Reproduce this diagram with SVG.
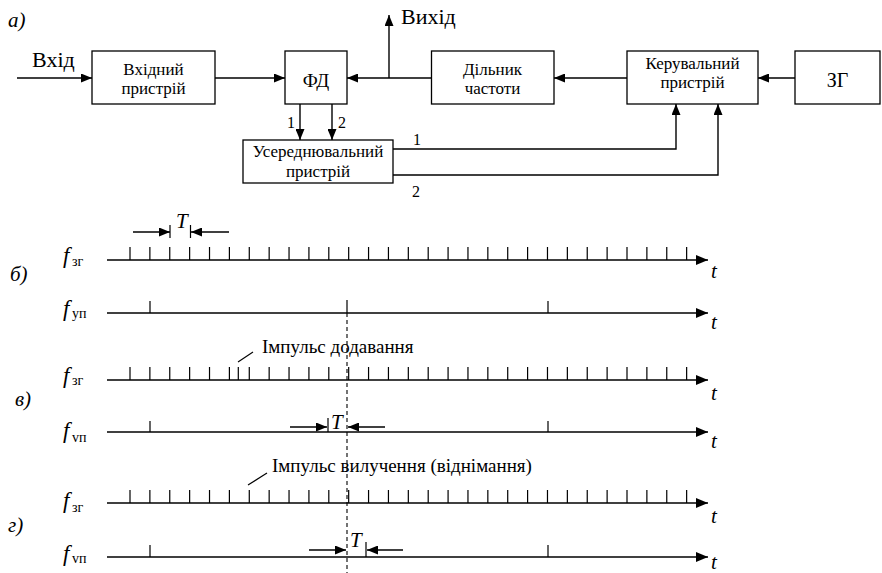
<svg xmlns="http://www.w3.org/2000/svg" width="882" height="573" viewBox="0 0 882 573">
<style>
text{font-family:"Liberation Serif","Times New Roman",serif;fill:#000}
.box{fill:#fff;stroke:#000;stroke-width:1.3}
.bt{font-size:17px;text-anchor:middle}
.big{font-size:22px}
.it{font-style:italic;font-size:21px}
.fl{font-style:italic;font-size:23px}
.num{font-size:16px}
.ln{fill:none;stroke:#000;stroke-width:1.4}
.ax{fill:none;stroke:#000;stroke-width:1.6}
.tk{fill:none;stroke:#000;stroke-width:1.2}
.sub{font-size:14px;font-style:normal}
.lbl{font-size:19px}
</style>
<defs>
<marker id="ah" markerUnits="userSpaceOnUse" markerWidth="11" markerHeight="9" refX="11" refY="4.5" orient="auto"><path d="M0,0 L11,4.5 L0,9 z" fill="#000"/></marker>
<marker id="aa" markerUnits="userSpaceOnUse" markerWidth="12" markerHeight="10" refX="12" refY="5" orient="auto"><path d="M0,0 L12,5 L0,10 z" fill="#000"/></marker>
</defs>

<text x="8" y="27" class="it">а)</text>
<text x="32" y="67" class="big">Вхід</text>
<text x="401" y="24" class="big">Вихід</text>

<g id="input-device"><rect class="box" x="92" y="51" width="123" height="53"/><text class="bt" x="153.5" y="75">Вхідний</text><text class="bt" x="153.5" y="94">пристрій</text></g>
<g id="phase-detector"><rect class="box" x="285" y="51" width="62" height="53"/><text class="bt" x="316" y="87" style="font-size:19px">ФД</text></g>
<g id="divider"><rect class="box" x="431.5" y="51" width="122.5" height="53"/><text class="bt" x="492.5" y="75">Дільник</text><text class="bt" x="492.5" y="94">частоти</text></g>
<g id="control-device"><rect class="box" x="627" y="51" width="131" height="53"/><text class="bt" x="692.5" y="69">Керувальний</text><text class="bt" x="692.5" y="88">пристрій</text></g>
<g id="generator"><rect class="box" x="795" y="51" width="85" height="53"/><text class="bt" x="837.5" y="87" style="font-size:20px">ЗГ</text></g>
<g id="averager"><rect class="box" x="243" y="140" width="150" height="43"/><text class="bt" x="318" y="157">Усереднювальний</text><text class="bt" x="318" y="177">пристрій</text></g>

<g id="connectors">
<path class="ln" d="M17,78 H92" marker-end="url(#ah)"/>
<path class="ln" d="M215,78 H285" marker-end="url(#ah)"/>
<path class="ln" d="M431.5,78 H347" marker-end="url(#ah)"/>
<path class="ln" d="M389,78 V15" marker-end="url(#ah)"/>
<path class="ln" d="M627,78 H554" marker-end="url(#ah)"/>
<path class="ln" d="M795,78 H758" marker-end="url(#ah)"/>
<path class="ln" d="M300,104 V140" marker-end="url(#ah)"/>
<path class="ln" d="M332,104 V140" marker-end="url(#ah)"/>
<path class="ln" d="M393,149 H676 V104" marker-end="url(#ah)"/>
<path class="ln" d="M393,175 H718 V104" marker-end="url(#ah)"/>
<text class="num" x="287" y="128">1</text>
<text class="num" x="338" y="128">2</text>
<text class="num" x="413" y="145">1</text>
<text class="num" x="412" y="197">2</text>
</g>

<g id="timing">
<path d="M347,313 V573" fill="none" stroke="#000" stroke-width="1.1" stroke-dasharray="4,3"/>

<!-- б) -->
<text x="10" y="281" class="it">б)</text>
<text x="63" y="263" class="fl">f</text><text x="72" y="266" class="sub">зг</text>
<path class="ax" d="M107,260 H708" marker-end="url(#aa)"/>
<path class="tk" d="M130,247v13m19.88,-13v13m19.88,-13v13m19.88,-13v13m19.88,-13v13m19.88,-13v13m19.88,-13v13m19.88,-13v13m19.88,-13v13m19.88,-13v13m19.88,-13v13m19.88,-13v13m19.88,-13v13m19.88,-13v13m19.88,-13v13m19.88,-13v13m19.88,-13v13m19.88,-13v13m19.88,-13v13m19.88,-13v13m19.88,-13v13m19.88,-13v13m19.88,-13v13m19.88,-13v13m19.88,-13v13m19.88,-13v13m19.88,-13v13m19.88,-13v13m19.88,-13v13"/>
<text x="711" y="278" class="it">t</text>
<path class="ln" d="M133,232 H170" marker-end="url(#ah)"/>
<path class="tk" d="M170,225 V238 M190.5,225 V238"/>
<path class="ln" d="M229,232 H191" marker-end="url(#ah)"/>
<text x="176" y="228" class="it">T</text>

<text x="63" y="316" class="fl">f</text><text x="72" y="318" class="sub">уп</text>
<path class="ax" d="M107,313 H708" marker-end="url(#aa)"/>
<path class="tk" d="M150,301 V313 M347,300 V313 M548,301 V313"/>
<text x="711" y="329" class="it">t</text>

<!-- в) -->
<text x="15" y="406" class="it">в)</text>
<text x="63" y="383" class="fl">f</text><text x="72" y="385" class="sub">зг</text>
<path class="ax" d="M107,380 H708" marker-end="url(#aa)"/>
<path class="tk" d="M130,367v13m19.88,-13v13m19.88,-13v13m19.88,-13v13m19.88,-13v13m19.88,-13v13m19.88,-13v13m19.88,-13v13m19.88,-13v13m19.88,-13v13m19.88,-13v13m19.88,-13v13m19.88,-13v13m19.88,-13v13m19.88,-13v13m19.88,-13v13m19.88,-13v13m19.88,-13v13m19.88,-13v13m19.88,-13v13m19.88,-13v13m19.88,-13v13m19.88,-13v13m19.88,-13v13m19.88,-13v13m19.88,-13v13m19.88,-13v13m19.88,-13v13m19.88,-13v13 M238.3,367 V380"/>
<path class="tk" d="M238,362 L253,352"/>
<text x="262" y="353" class="lbl">Імпульс додавання</text>
<text x="711" y="400" class="it">t</text>

<text x="63" y="438" class="fl">f</text><text x="72" y="442" class="sub">vп</text>
<path class="ax" d="M107,432 H708" marker-end="url(#aa)"/>
<path class="tk" d="M150,421 V432 M548,421 V432 M328,418 V432"/>
<path class="ln" d="M290,427 H327" marker-end="url(#ah)"/>
<path class="ln" d="M385,427 H348" marker-end="url(#ah)"/>
<text x="331" y="429" class="it">T</text>
<text x="711" y="448" class="it">t</text>

<!-- г) -->
<text x="8" y="532" class="it">г)</text>
<text x="63" y="508" class="fl">f</text><text x="72" y="512" class="sub">зг</text>
<path class="ax" d="M107,503 H708" marker-end="url(#aa)"/>
<path class="tk" d="M130,490v13m19.88,-13v13m19.88,-13v13m19.88,-13v13m19.88,-13v13m19.88,-13v13m19.88,-13v13m19.88,-13v13m19.88,-13v13m19.88,-13v13m19.88,-13v13m19.88,-13v13m19.88,-13v13m19.88,-13v13m19.88,-13v13m19.88,-13v13m19.88,-13v13m19.88,-13v13m19.88,-13v13m19.88,-13v13m19.88,-13v13m19.88,-13v13m19.88,-13v13m19.88,-13v13m19.88,-13v13m19.88,-13v13m19.88,-13v13m19.88,-13v13m19.88,-13v13"/>
<path class="tk" d="M248,485 L267,473"/>
<text x="272" y="472" class="lbl">Імпульс вилучення (віднімання)</text>
<text x="711" y="523" class="it">t</text>

<text x="63" y="561" class="fl">f</text><text x="72" y="563" class="sub">vп</text>
<path class="ax" d="M107,557 H708" marker-end="url(#aa)"/>
<path class="tk" d="M150,545 V557 M548,545 V557 M366,542 V557"/>
<path class="ln" d="M309,550 H346" marker-end="url(#ah)"/>
<path class="ln" d="M403,550 H367" marker-end="url(#ah)"/>
<text x="350" y="547" class="it">T</text>
<text x="711" y="569" class="it">t</text>
</g>
</svg>
